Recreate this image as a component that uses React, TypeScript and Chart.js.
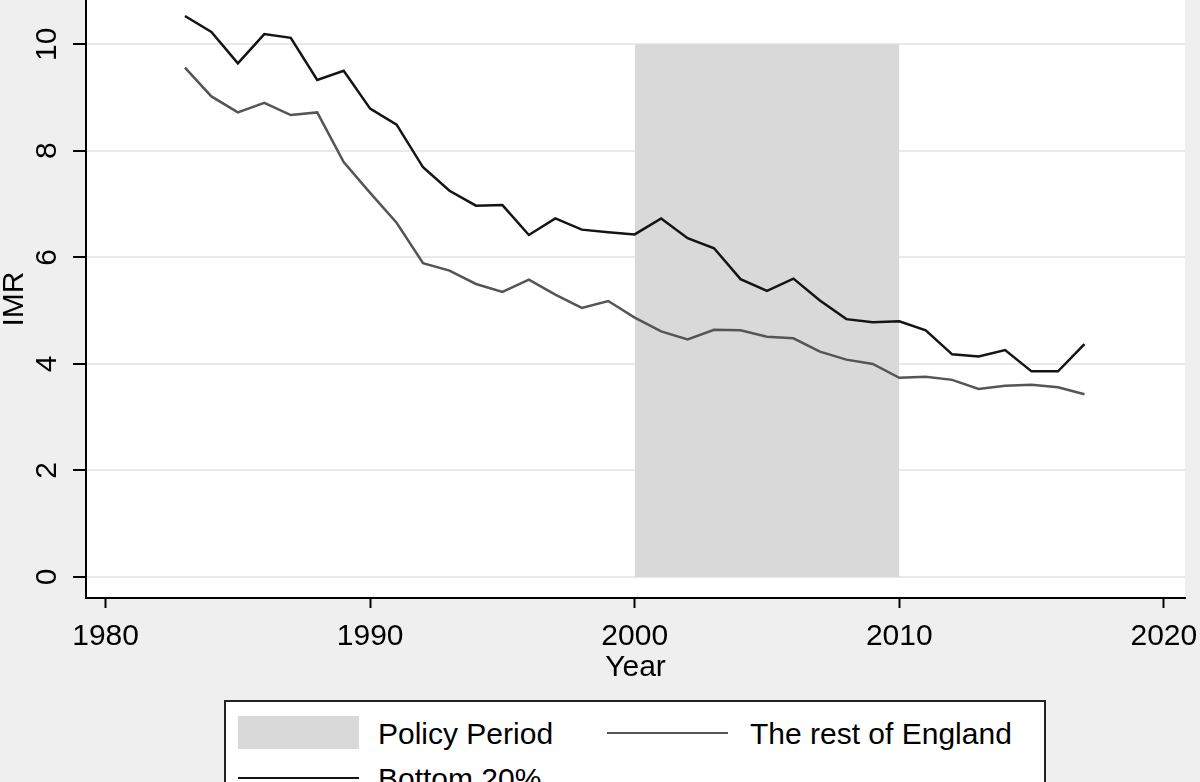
import { useEffect, useRef } from 'react'
import { Chart, registerables } from 'chart.js'

Chart.register(...registerables)

const years = [
  1983, 1984, 1985, 1986, 1987, 1988, 1989, 1990, 1991, 1992, 1993, 1994, 1995, 1996, 1997, 1998, 1999,
  2000, 2001, 2002, 2003, 2004, 2005, 2006, 2007, 2008, 2009, 2010, 2011, 2012, 2013, 2014, 2015, 2016, 2017,
]

const bottom20 = [
  10.53, 10.23, 9.64, 10.19, 10.12, 9.33, 9.5, 8.79, 8.49, 7.69, 7.25, 6.97, 6.98, 6.42, 6.73, 6.52, 6.47,
  6.43, 6.73, 6.36, 6.17, 5.59, 5.37, 5.6, 5.19, 4.84, 4.78, 4.8, 4.63, 4.18, 4.14, 4.26, 3.86, 3.86, 4.37,
]

const restOfEngland = [
  9.56, 9.02, 8.72, 8.9, 8.67, 8.72, 7.79, 7.21, 6.65, 5.89, 5.75, 5.5, 5.35, 5.58, 5.3, 5.05, 5.18,
  4.87, 4.61, 4.46, 4.64, 4.63, 4.51, 4.48, 4.23, 4.08, 4.0, 3.74, 3.76, 3.7, 3.53, 3.59, 3.61, 3.56, 3.43,
]

const policyPeriod = [2000, 2010]
const policyHeight = 10

const xTicks = [1980, 1990, 2000, 2010, 2020]
const yTicks = [0, 2, 4, 6, 8, 10]

const FONT = '"Liberation Sans", Arial, sans-serif'

// white plot region on the grey page
const plotBackground = {
  id: 'plotBackground',
  beforeDraw(chart: any) {
    const { ctx, chartArea: a } = chart
    ctx.save()
    ctx.fillStyle = '#ffffff'
    ctx.fillRect(a.left, a.top, a.right - a.left, a.bottom - a.top)
    ctx.restore()
  },
}

// Stata-style y labels, rotated to read upwards
const rotatedYLabels = {
  id: 'rotatedYLabels',
  afterDraw(chart: any) {
    const { ctx } = chart
    const scale = chart.scales.y
    ctx.save()
    ctx.font = `30px ${FONT}`
    ctx.fillStyle = '#000'
    ctx.textAlign = 'center'
    ctx.textBaseline = 'middle'
    yTicks.forEach((v) => {
      ctx.save()
      ctx.translate(scale.right - 38, scale.getPixelForValue(v))
      ctx.rotate(-Math.PI / 2)
      ctx.fillText(String(v), 0, 0)
      ctx.restore()
    })
    ctx.restore()
  },
}

const ImrChart = () => {
  const canvasRef = useRef<HTMLCanvasElement | null>(null)
  const chartRef = useRef<Chart | null>(null)

  useEffect(() => {
    document.body.style.margin = '0'
    const ctx = canvasRef.current?.getContext('2d')
    if (!ctx) return
    if (chartRef.current) chartRef.current.destroy()

    chartRef.current = new Chart(ctx, {
      type: 'line',
      data: {
        datasets: [
          {
            label: 'Bottom 20%',
            data: years.map((x, i) => ({ x, y: bottom20[i] })),
            borderColor: '#141414',
            borderWidth: 2.5,
            pointRadius: 0,
            tension: 0,
            fill: false,
          },
          {
            label: 'The rest of England',
            data: years.map((x, i) => ({ x, y: restOfEngland[i] })),
            borderColor: '#555555',
            borderWidth: 2.5,
            pointRadius: 0,
            tension: 0,
            fill: false,
          },
          {
            label: 'Policy Period',
            data: policyPeriod.map((x) => ({ x, y: policyHeight })),
            borderWidth: 0,
            borderColor: 'rgba(0,0,0,0)',
            backgroundColor: '#d9d9d9',
            pointRadius: 0,
            fill: 'origin',
          },
        ],
      },
      options: {
        animation: false,
        responsive: false,
        maintainAspectRatio: false,
        layout: { padding: { top: 0, right: 15, bottom: 99, left: 0 } },
        plugins: {
          legend: { display: false },
          tooltip: { enabled: false },
        },
        scales: {
          x: {
            type: 'linear',
            min: 1979.26,
            max: 2020.8,
            afterBuildTicks: (s: any) => {
              s.ticks = xTicks.map((value) => ({ value }))
            },
            afterFit: (s: any) => {
              s.height = 85
              s.paddingLeft = 0
              s.paddingRight = 0
            },
            grid: {
              drawOnChartArea: false,
              drawTicks: true,
              tickLength: 10,
              tickColor: '#000',
              tickWidth: 2,
            },
            border: { display: true, color: '#000', width: 2 },
            ticks: {
              color: '#000',
              font: { family: FONT, size: 30 },
              padding: 11,
              maxRotation: 0,
              autoSkip: false,
              callback: (v: any) => String(v),
            },
            title: {
              display: true,
              text: 'Year',
              color: '#000',
              font: { family: FONT, size: 30, lineHeight: 1 },
              padding: 0,
            },
          },
          y: {
            type: 'linear',
            min: -0.394,
            max: 10.83,
            afterBuildTicks: (s: any) => {
              s.ticks = yTicks.map((value) => ({ value }))
            },
            afterFit: (s: any) => {
              s.width = 86
              s.paddingTop = 0
              s.paddingBottom = 0
            },
            grid: {
              color: '#e9e9e9',
              lineWidth: 2,
              drawTicks: true,
              tickLength: 13,
              tickColor: '#000',
              tickWidth: 2,
            },
            border: { display: true, color: '#000', width: 2 },
            ticks: { display: false },
            title: {
              display: true,
              text: 'IMR',
              color: '#000',
              font: { family: FONT, size: 30, lineHeight: 1 },
              padding: 0,
            },
          },
        },
      },
      plugins: [plotBackground, rotatedYLabels],
    })

    return () => {
      if (chartRef.current) {
        chartRef.current.destroy()
        chartRef.current = null
      }
    }
  }, [])

  return <canvas ref={canvasRef} width="1200" height="782" style={{ display: 'block' }}></canvas>
}

const legendText: React.CSSProperties = {
  position: 'absolute',
  fontFamily: FONT,
  fontSize: 30,
  lineHeight: '30px',
  color: '#000',
  whiteSpace: 'nowrap',
}

const Legend = () => (
  <div
    style={{
      position: 'absolute',
      left: 224,
      top: 700,
      width: 822,
      height: 120,
      background: '#fff',
      border: '2px solid #222',
      boxSizing: 'border-box',
    }}
  >
    <div style={{ position: 'absolute', left: 12, top: 14, width: 121, height: 33, background: '#d9d9d9' }} />
    <div style={{ ...legendText, left: 152, top: 17 }}>Policy Period</div>
    <div style={{ position: 'absolute', left: 381, top: 30, width: 121, height: 2, background: '#555' }} />
    <div style={{ ...legendText, left: 524, top: 17 }}>The rest of England</div>
    <div style={{ position: 'absolute', left: 12, top: 75, width: 121, height: 2, background: '#141414' }} />
    <div style={{ ...legendText, left: 152, top: 62 }}>Bottom 20%</div>
  </div>
)

export default function App() {
  return (
    <div
      style={{
        position: 'relative',
        width: 1200,
        height: 782,
        overflow: 'hidden',
        background: '#efefef',
      }}
    >
      <ImrChart />
      <Legend />
    </div>
  )
}
